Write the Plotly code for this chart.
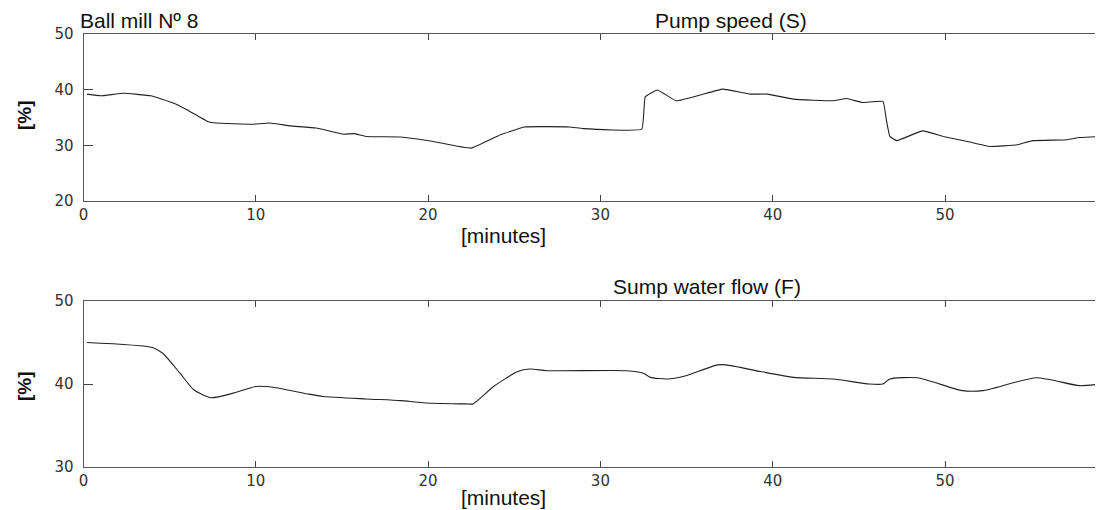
import plotly.graph_objects as go

# Pump speed (S) [%] vs time [minutes]
pump_t = [0.2, 1.0, 2.3, 3.9, 5.2, 6.0, 7.2, 7.7, 9.8, 10.8, 12.0, 13.5, 15.1, 15.7, 16.4, 18.4,
          20.3, 22.5, 24.2, 25.6, 28.2, 29.0, 32.4, 32.6, 33.3, 34.4, 35.8, 37.1, 38.7, 39.7,
          41.2, 43.5, 44.3, 45.2, 46.4, 46.6, 46.8, 47.2, 48.7, 49.9, 51.3, 52.6, 54.2, 55.1,
          57.1, 57.8, 59.0, 59.3]
pump_v = [39.2, 38.9, 39.35, 38.9, 37.6, 36.4, 34.3, 34.0, 33.8, 34.0, 33.5, 33.1, 32.0, 32.1, 31.6, 31.5,
          30.7, 29.5, 31.9, 33.3, 33.3, 33.0, 32.9, 38.7, 39.95, 38.0, 39.05, 40.1, 39.2, 39.2,
          38.3, 38.0, 38.4, 37.7, 37.9, 34.5, 31.6, 30.85, 32.6, 31.6, 30.7, 29.8, 30.1, 30.85,
          31.0, 31.4, 31.6, 31.8]

# Sump water flow (F) [%] vs time [minutes]
flow_t = [0.2, 4.0, 4.6, 5.6, 6.4, 7.4, 8.7, 10.0, 11.0, 13.0, 13.9, 16.4, 18.4, 19.7, 22.2, 22.6,
          23.8, 25.2, 25.9, 26.9, 31.5, 32.5, 32.9, 33.9, 34.8, 36.8, 37.3, 39.3, 41.2, 43.5,
          45.6, 46.4, 46.8, 48.4, 51.0, 52.2, 55.3, 57.8, 59.0, 59.3]
flow_v = [45.0, 44.4, 43.7, 41.3, 39.3, 38.35, 38.9, 39.7, 39.6, 38.8, 38.5, 38.2, 38.0, 37.75, 37.6, 37.6,
          39.7, 41.5, 41.8, 41.6, 41.6, 41.3, 40.8, 40.6, 40.9, 42.3, 42.3, 41.5, 40.8, 40.6,
          40.0, 40.0, 40.6, 40.75, 39.2, 39.2, 40.75, 39.8, 40.0, 40.1]

x_ticks = [0, 10, 20, 30, 40, 50]
top_y_range = [20, 50]
bot_y_range = [30, 50]

# page body has an 8px margin; figure sized so it fills the window exactly
OFF = 8
W, H = 1103 - OFF, 510 - OFF


def px(x):
    return (x - OFF) / W


def py(y):
    return 1 - (y - OFF) / H


fig = go.Figure()
fig.add_trace(go.Scatter(x=pump_t, y=pump_v, mode="lines", line=dict(color="#222", width=1.1, shape="spline", smoothing=0.3),
                         xaxis="x", yaxis="y", showlegend=False))
fig.add_trace(go.Scatter(x=flow_t, y=flow_v, mode="lines", line=dict(color="#222", width=1.1, shape="spline", smoothing=0.6),
                         xaxis="x2", yaxis="y2", showlegend=False))

tickfont = dict(family="DejaVu Sans", size=15, color="#333")
xcommon = dict(range=[0, 59.17], tickvals=x_ticks, ticks="inside", ticklen=6, tickcolor="#444",
               showline=True, linecolor="#555", linewidth=1, mirror="ticks", showgrid=False,
               zeroline=False, tickfont=tickfont, domain=[px(83.5), 1.0], automargin=False)
ycommon = dict(dtick=10, ticks="inside", ticklen=9, tickcolor="#444", showline=True, linecolor="#555",
               linewidth=1, showgrid=False, zeroline=False, tickfont=tickfont, ticklabelstandoff=6,
               automargin=False)

fig.update_layout(
    width=W, height=H,
    margin=dict(l=0, r=0, t=0, b=0, autoexpand=False),
    paper_bgcolor="white", plot_bgcolor="white",
    xaxis=dict(anchor="y", **xcommon),
    yaxis=dict(anchor="x", range=top_y_range, domain=[py(201), py(34)], **ycommon),
    xaxis2=dict(anchor="y2", **xcommon),
    yaxis2=dict(anchor="x2", range=bot_y_range, domain=[py(467), py(301)], **ycommon),
)

tfont = dict(family="Liberation Sans, Arial", size=21, color="#111")
ann = [
    dict(text="Ball mill Nº 8", x=78, y=21, xanchor="left"),
    dict(text="Pump speed (S)", x=731, y=21, xanchor="center"),
    dict(text="Sump water flow (F)", x=707, y=286, xanchor="center"),
    dict(text="[minutes]", x=503, y=235, xanchor="center"),
    dict(text="[minutes]", x=503, y=497, xanchor="center"),
]
for a in ann:
    fig.add_annotation(text=a["text"], x=px(a["x"]), y=py(a["y"]), xref="paper", yref="paper",
                       xanchor=a["xanchor"], yanchor="middle", showarrow=False, font=tfont)
for yc in (115, 386):
    fig.add_annotation(text="<b>[%]</b>", x=px(24), y=py(yc), xref="paper", yref="paper",
                       xanchor="center", yanchor="middle", textangle=-90, showarrow=False,
                       font=dict(family="Liberation Sans, Arial", size=19, color="#111"))

fig.write_html("out.html")
